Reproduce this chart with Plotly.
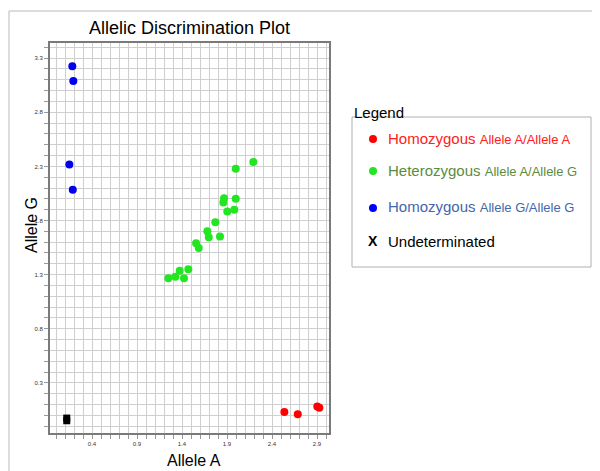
import plotly.graph_objects as go

# ---- data ----
blue_x = [0.181, 0.192, 0.148, 0.186]
blue_y = [3.226, 3.090, 2.318, 2.084]

green_x = [2.192, 1.997, 1.867, 1.859, 1.997, 1.903, 1.981, 1.770, 1.681, 1.697,
           1.822, 1.556, 1.586, 1.470, 1.374, 1.326, 1.248, 1.422]
green_y = [2.340, 2.279, 2.006, 1.967, 2.001, 1.883, 1.899, 1.784, 1.701, 1.645,
           1.652, 1.590, 1.547, 1.349, 1.337, 1.281, 1.266, 1.266]

red_x = [2.537, 2.686, 2.903, 2.926]
red_y = [0.031, 0.010, 0.081, 0.071]

undet_x = [0.119, 0.119]
undet_y = [-0.025, -0.050]

x_ticks = [0.4, 0.9, 1.4, 1.9, 2.4, 2.9]
y_ticks = [0.3, 0.8, 1.3, 1.8, 2.3, 2.8, 3.3]

legend_items = [
    ("Homozygous", "Allele A/Allele A", "#ff0000", "#ff2020"),
    ("Heterozygous", "Allele A/Allele G", "#22e622", "#5b8c3e"),
    ("Homozygous", "Allele G/Allele G", "#0000ff", "#4466aa"),
]

# ---- layout geometry (pixels in the 600x471 window; page has 8px body margin) ----
OFF = 8
W, H = 600 - OFF, 471 - OFF
L, R, T, B = 50 - OFF, 329 - OFF, 43 - OFF, 433 - OFF
X_RANGE = [-0.067, 3.033]
Y_RANGE = [-0.163, 3.44]


def px(xp):
    return (xp - OFF - L) / (R - L)


def py(yp):
    return (B - (yp - OFF)) / (B - T)


def grid_vals(lo, hi, labels):
    start = int(round(lo * 10)) - 1
    end = int(round(hi * 10)) + 1
    vals, texts = [], []
    lab = {round(v, 1) for v in labels}
    for k in range(start, end + 1):
        v = round(k / 10, 1)
        if lo <= v <= hi:
            vals.append(v)
            texts.append(f"{v:.1f}" if v in lab else "")
    return vals, texts


fig = go.Figure()
fig.add_trace(go.Scatter(x=blue_x, y=blue_y, mode="markers",
                         marker=dict(color="#0000ee", size=8), showlegend=False))
fig.add_trace(go.Scatter(x=green_x, y=green_y, mode="markers",
                         marker=dict(color="#22e622", size=8), showlegend=False))
fig.add_trace(go.Scatter(x=red_x, y=red_y, mode="markers",
                         marker=dict(color="#ff0000", size=8), showlegend=False))
fig.add_trace(go.Scatter(x=undet_x, y=undet_y, mode="markers",
                         marker=dict(color="#000000", size=7, symbol="square"),
                         showlegend=False))

axis_common = dict(
    showgrid=True, gridcolor="#cfcfcf", gridwidth=1,
    showline=True, linecolor="#7a7a7a", linewidth=2, mirror=True,
    ticks="outside", ticklen=4, tickcolor="#999999",
    tickfont=dict(size=6, color="#333333", family="Liberation Sans"),
    zeroline=False,
)

xv, xt = grid_vals(X_RANGE[0], X_RANGE[1], x_ticks)
yv, yt = grid_vals(Y_RANGE[0], Y_RANGE[1], y_ticks)
fig.update_xaxes(range=X_RANGE, tickmode="array", tickvals=xv, ticktext=xt, **axis_common)
fig.update_yaxes(range=Y_RANGE, tickmode="array", tickvals=yv, ticktext=yt, **axis_common)

shapes = []
ann = []

# outer border lines
shapes.append(dict(type="line", xref="paper", yref="paper", x0=px(9), x1=px(600),
                   y0=py(11), y1=py(11), line=dict(color="#d0d0d0", width=1.5)))
shapes.append(dict(type="line", xref="paper", yref="paper", x0=px(9), x1=px(9),
                   y0=py(11), y1=py(471), line=dict(color="#d0d0d0", width=1.5)))

# legend box
shapes.append(dict(type="rect", xref="paper", yref="paper", x0=px(352), x1=px(591),
                   y0=py(117), y1=py(267), line=dict(color="#b0b0b0", width=1),
                   fillcolor="white", layer="below"))
ann.append(dict(xref="paper", yref="paper", x=px(352), y=py(112), text="Legend",
                showarrow=False, xanchor="left", yanchor="middle",
                font=dict(size=15, color="black", family="Liberation Sans")))

row_y = [139, 171, 208]
for (w1, w2, dot, tc), ry in zip(legend_items, row_y):
    shapes.append(dict(type="circle", xref="paper", yref="paper",
                       xsizemode="pixel", ysizemode="pixel",
                       xanchor=px(373), yanchor=py(ry),
                       x0=-4, x1=4, y0=-4, y1=4,
                       fillcolor=dot, line=dict(color=dot, width=0)))
    ann.append(dict(xref="paper", yref="paper", x=px(386), y=py(ry - 1),
                    text=f'{w1} <span style="font-size:13px">{w2}</span>',
                    showarrow=False, xanchor="left", yanchor="middle",
                    font=dict(size=15, color=tc, family="Liberation Sans")))
ann.append(dict(xref="paper", yref="paper", x=px(373), y=py(241), text="<b>X</b>",
                showarrow=False, xanchor="center", yanchor="middle",
                font=dict(size=14, color="black", family="Liberation Sans")))
ann.append(dict(xref="paper", yref="paper", x=px(386), y=py(241), text="Undeterminated",
                showarrow=False, xanchor="left", yanchor="middle",
                font=dict(size=15, color="black", family="Liberation Sans")))

# titles
ann.append(dict(xref="paper", yref="paper", x=px(189), y=py(28),
                text="Allelic Discrimination Plot", showarrow=False,
                xanchor="center", yanchor="middle",
                font=dict(size=18, color="black", family="Liberation Sans")))
ann.append(dict(xref="paper", yref="paper", x=px(194), y=py(460), text="Allele A",
                showarrow=False, xanchor="center", yanchor="middle",
                font=dict(size=16, color="black", family="Liberation Sans")))
ann.append(dict(xref="paper", yref="paper", x=px(31), y=py(225), text="Allele G",
                showarrow=False, xanchor="center", yanchor="middle", textangle=-90,
                font=dict(size=16, color="black", family="Liberation Sans")))

fig.update_layout(
    width=W, height=H,
    margin=dict(l=L, r=W - R, t=T, b=H - B, pad=0),
    paper_bgcolor="white", plot_bgcolor="white",
    shapes=shapes, annotations=ann, showlegend=False,
    font=dict(family="Liberation Sans"),
)

fig.write_html("out.html")
